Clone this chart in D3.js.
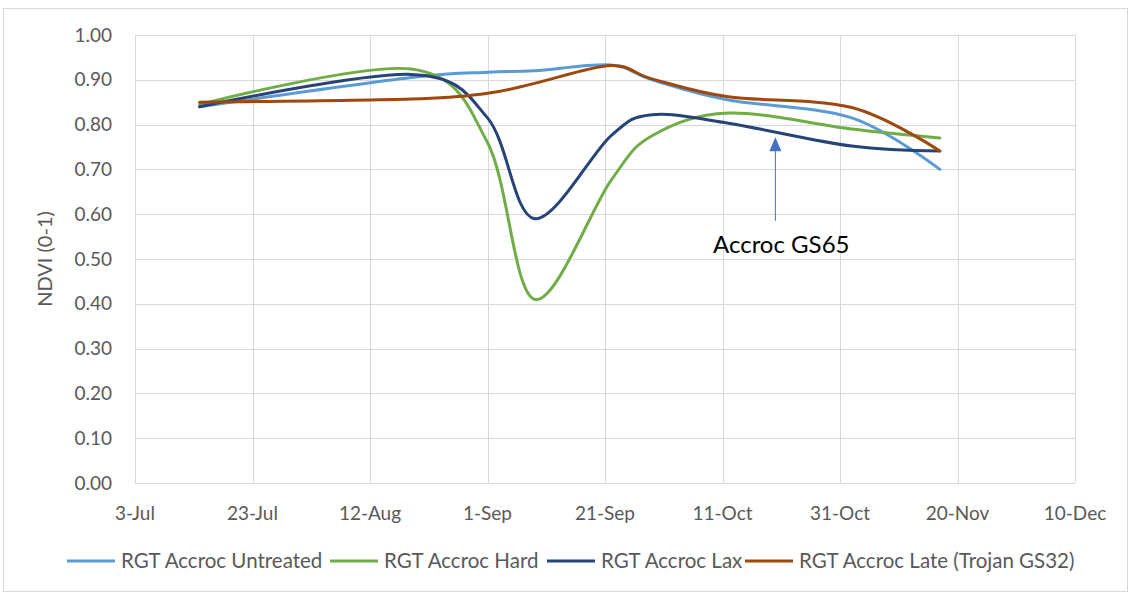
<!DOCTYPE html>
<meta charset="utf-8" />
<script src="https://cdn.jsdelivr.net/npm/d3@7"></script>
<html>
<head>
<style>
  body { margin: 0; background: #fff; }
  text { font-family: Lato, "Open Sans", sans-serif; }
</style>
</head>
<body>
<script>
// sample dates and NDVI per treatment
const dates = ["2019-07-14", "2019-08-19", "2019-09-01", "2019-09-09", "2019-09-22", "2019-09-29", "2019-10-12", "2019-11-02", "2019-11-17"];
const untreated = [0.84, 0.905, 0.917, 0.920, 0.933, 0.900, 0.855, 0.815, 0.70];
const hard      = [0.845, 0.924, 0.760, 0.410, 0.675, 0.775, 0.826, 0.790, 0.77];
const lax       = [0.84, 0.912, 0.815, 0.590, 0.775, 0.822, 0.803, 0.752, 0.741];
const late      = [0.85, 0.857, 0.870, 0.892, 0.932, 0.902, 0.862, 0.838, 0.741];

const seriesNames = ["RGT Accroc Untreated", "RGT Accroc Hard", "RGT Accroc Lax", "RGT Accroc Late (Trojan GS32)"];
const seriesColors = ["#5B9BD5", "#70AD47", "#264478", "#9E480E"];
const xTicks = ["2019-07-03", "2019-07-23", "2019-08-12", "2019-09-01", "2019-09-21", "2019-10-11", "2019-10-31", "2019-11-20", "2019-12-10"];
const yTicks = [0, 0.1, 0.2, 0.3, 0.4, 0.5, 0.6, 0.7, 0.8, 0.9, 1.0];

const annotation = { text: "Accroc GS65", date: "2019-10-20", from: 0.585, to: 0.772 };

const width = 1130, height = 595;
const margin = { left: 135, right: 55, top: 35, bottom: 112 };

const parse = d3.timeParse("%Y-%m-%d");
const fmt = d3.timeFormat("%-d-%b");

const svg = d3.select("body").append("svg")
    .attr("width", width)
    .attr("height", height);

// outer chart border
svg.append("rect")
    .attr("x", 3.5).attr("y", 8.5)
    .attr("width", width - 6).attr("height", height - 12)
    .attr("fill", "none")
    .attr("stroke", "#D9D9D9");

const x = d3.scaleTime()
    .domain([parse(xTicks[0]), parse(xTicks[xTicks.length - 1])])
    .range([margin.left, width - margin.right]);

const y = d3.scaleLinear()
    .domain([0, 1])
    .range([height - margin.bottom, margin.top]);

// gridlines
svg.append("g")
    .selectAll("line")
    .data(yTicks)
    .join("line")
    .attr("x1", margin.left).attr("x2", width - margin.right)
    .attr("y1", d => Math.round(y(d)) + 0.5).attr("y2", d => Math.round(y(d)) + 0.5)
    .attr("stroke", "#D9D9D9");

svg.append("g")
    .selectAll("line")
    .data(xTicks)
    .join("line")
    .attr("x1", d => Math.round(x(parse(d))) + 0.5).attr("x2", d => Math.round(x(parse(d))) + 0.5)
    .attr("y1", margin.top).attr("y2", height - margin.bottom)
    .attr("stroke", "#D9D9D9");

// axis labels
svg.append("g")
    .selectAll("text")
    .data(yTicks)
    .join("text")
    .attr("x", margin.left - 23)
    .attr("y", d => y(d))
    .attr("dy", "0.35em")
    .attr("text-anchor", "end")
    .attr("fill", "#595959")
    .attr("font-size", 19)
    .text(d => d.toFixed(2));

svg.append("g")
    .selectAll("text")
    .data(xTicks)
    .join("text")
    .attr("x", d => x(parse(d)))
    .attr("y", height - margin.bottom + 37)
    .attr("text-anchor", "middle")
    .attr("fill", "#595959")
    .attr("font-size", 19)
    .text(d => fmt(parse(d)));

svg.append("text")
    .attr("transform", "translate(52," + (margin.top + (height - margin.bottom - margin.top) / 2) + ") rotate(-90)")
    .attr("text-anchor", "middle")
    .attr("fill", "#595959")
    .attr("font-size", 20)
    .text("NDVI (0-1)");

// lines
const allSeries = [untreated, hard, lax, late];
const line = d3.line()
    .x(d => x(d.date))
    .y(d => y(d.v))
    .curve(d3.curveCardinal.tension(0));

svg.append("g")
    .selectAll("path")
    .data(allSeries)
    .join("path")
    .attr("d", vals => line(vals.map((v, i) => ({ date: parse(dates[i]), v: v }))))
    .attr("fill", "none")
    .attr("stroke", (d, i) => seriesColors[i])
    .attr("stroke-width", 3)
    .attr("stroke-linecap", "round");

// annotation arrow
const ax = x(parse(annotation.date));
svg.append("line")
    .attr("x1", ax).attr("x2", ax)
    .attr("y1", y(annotation.from)).attr("y2", y(annotation.to) + 12)
    .attr("stroke", "#4472C4")
    .attr("stroke-width", 1);
svg.append("path")
    .attr("d", d3.line()([[ax, y(annotation.to)], [ax - 6, y(annotation.to) + 14], [ax + 6, y(annotation.to) + 14]]))
    .attr("fill", "#4472C4");
svg.append("text")
    .attr("x", 713)
    .attr("y", y(annotation.from) + 32)
    .attr("font-size", 24)
    .attr("fill", "#000")
    .text(annotation.text);

// legend
const legendX = [67, 330, 547, 745];
const lg = svg.append("g")
    .selectAll("g")
    .data(seriesNames)
    .join("g")
    .attr("transform", (d, i) => "translate(" + legendX[i] + "," + 561 + ")");
lg.append("line")
    .attr("x1", 0).attr("x2", 48)
    .attr("stroke", (d, i) => seriesColors[i])
    .attr("stroke-width", 3);
lg.append("text")
    .attr("x", 54)
    .attr("dy", "0.35em")
    .attr("font-size", 20.5)
    .attr("fill", "#595959")
    .text(d => d);
</script>
</body>
</html>
